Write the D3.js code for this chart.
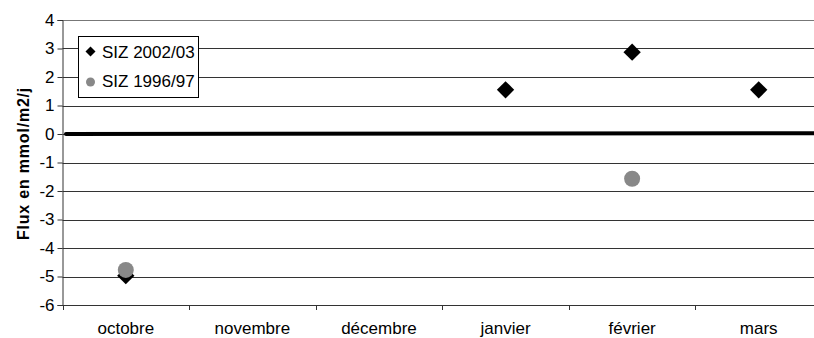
<!DOCTYPE html>
<html>
<head>
<meta charset="utf-8">
<script src="https://cdn.jsdelivr.net/npm/d3@7"></script>
<style>
  body { margin: 0; background: #fff; }
  svg { display: block; font-family: Arial, "Liberation Sans", sans-serif; }
</style>
</head>
<body>
<div id="chart"></div>
<script>
// categories and series
const months = ["octobre", "novembre", "décembre", "janvier", "février", "mars"];
const siz0203 = [-4.97, null, null, 1.55, 2.87, 1.55];
const siz9697 = [-4.77, null, null, null, -1.57, null];
const yTicks = [4, 3, 2, 1, 0, -1, -2, -3, -4, -5, -6];
const seriesNames = ["SIZ 2002/03", "SIZ 1996/97"];

const W = 814, H = 338;
const plot = { left: 62.5, right: 822, top: 20, bottom: 305 };
const font = "Arial, 'Liberation Sans', sans-serif";

const svg = d3.select("#chart").append("svg")
  .attr("width", W).attr("height", H);

const x = d3.scaleBand().domain(months).range([plot.left, plot.right]);
const y = d3.scaleLinear().domain([-6, 4]).range([plot.bottom, plot.top]);

// horizontal gridlines
svg.append("g").selectAll("line")
  .data(yTicks)
  .enter().append("line")
  .attr("x1", plot.left).attr("x2", W)
  .attr("y1", d => Math.round(y(d)) + 0.5).attr("y2", d => Math.round(y(d)) + 0.5)
  .attr("stroke", d => d === 4 ? "#777" : "#333").attr("stroke-width", 1);

// y axis (plain hyphen like the original, not the unicode minus)
const yAxis = svg.append("g")
  .attr("transform", `translate(${plot.left},0)`)
  .call(d3.axisLeft(y).tickValues(yTicks).tickSize(5).tickPadding(3).tickFormat(d => String(d)));
yAxis.select(".domain").attr("stroke", "#333");
yAxis.selectAll(".tick line").attr("stroke", "#333");
yAxis.selectAll("text").style("font-size", "17px").style("fill", "#000").style("font-family", font);

// x axis
const xAxis = svg.append("g")
  .attr("transform", `translate(0,${plot.bottom})`)
  .call(d3.axisBottom(x).tickSize(0).tickPadding(17));
xAxis.select(".domain").attr("stroke", "#333");
xAxis.selectAll("text").style("font-size", "17px").style("fill", "#000").style("font-family", font);
// category separators
svg.append("g").selectAll("line")
  .data(months)
  .enter().append("line")
  .attr("x1", d => Math.round(x(d)) + 0.5).attr("x2", d => Math.round(x(d)) + 0.5)
  .attr("y1", plot.bottom).attr("y2", plot.bottom + 5)
  .attr("stroke", "#333");

// thick zero line
svg.append("line")
  .attr("x1", 66).attr("x2", W + 10)
  .attr("y1", y(0)).attr("y2", y(0.03))
  .attr("stroke", "#000").attr("stroke-width", 4).attr("stroke-linecap", "round");

// y label
svg.append("text")
  .attr("transform", `translate(29,${(plot.top + plot.bottom) / 2 + 1}) rotate(-90)`)
  .attr("text-anchor", "middle")
  .style("font-size", "16px").style("font-weight", "bold")
  .style("letter-spacing", "0.8px")
  .text("Flux en mmol/m2/j");

const diamond = d3.symbol().type(d3.symbolSquare).size(150);

// SIZ 2002/03 diamonds
svg.append("g").selectAll("path")
  .data(months.map((m, i) => ({ m, v: siz0203[i] })).filter(d => d.v != null))
  .enter().append("path")
  .attr("d", diamond)
  .attr("transform", d => `translate(${x(d.m) + x.bandwidth() / 2},${y(d.v)}) rotate(45)`)
  .attr("fill", "#000");

// SIZ 1996/97 circles
svg.append("g").selectAll("circle")
  .data(months.map((m, i) => ({ m, v: siz9697[i] })).filter(d => d.v != null))
  .enter().append("circle")
  .attr("cx", d => x(d.m) + x.bandwidth() / 2)
  .attr("cy", d => y(d.v))
  .attr("r", 8)
  .attr("fill", "#888");

// legend
const lg = svg.append("g").attr("transform", "translate(78.5,36.5)");
lg.append("rect").attr("width", 120).attr("height", 61)
  .attr("fill", "#fff").attr("stroke", "#000");
lg.append("path").attr("d", d3.symbol().type(d3.symbolSquare).size(50))
  .attr("transform", "translate(12,15) rotate(45)").attr("fill", "#000");
lg.append("circle").attr("cx", 12).attr("cy", 45.5).attr("r", 4.5).attr("fill", "#888");
lg.selectAll("text")
  .data(seriesNames)
  .enter().append("text")
  .attr("x", 23.5).attr("y", (d, i) => 21 + i * 29.5)
  .style("font-size", "17px")
  .text(d => d);
</script>
</body>
</html>
